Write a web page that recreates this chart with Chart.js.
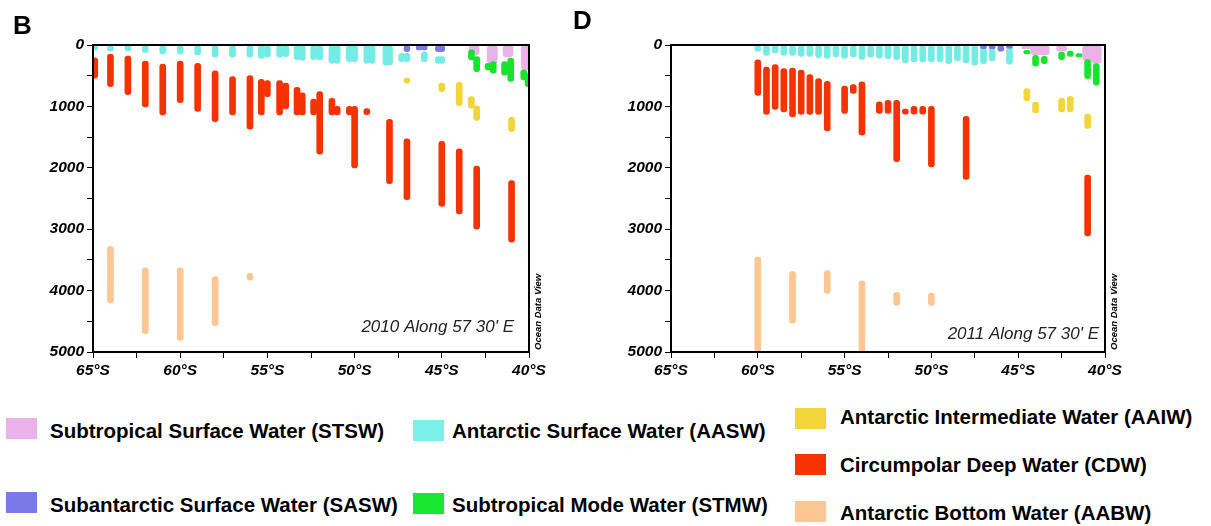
<!DOCTYPE html>
<html>
<head>
<meta charset="utf-8">
<script src="https://cdn.jsdelivr.net/npm/chart.js@4.4.1/dist/chart.umd.min.js"></script>
<style>
body { margin: 0; background: #fff; font-family: 'Liberation Sans', Arial, sans-serif; }
#wrap { position: relative; width: 1211px; height: 526px; overflow: hidden; }
canvas { position: absolute; top: 0; }
.panel { position: absolute; font-weight: bold; font-size: 26px; line-height: 30px; }
.sw { position: absolute; width: 31px; height: 21px; }
.lt { position: absolute; font-weight: bold; font-size: 20.5px; line-height: 24px; white-space: nowrap; color: #000; }
</style>
</head>
<body>
<div id="wrap">
  <canvas id="chartB" width="560" height="385" style="left:0px"></canvas>
  <canvas id="chartD" width="560" height="385" style="left:578px"></canvas>
  <div class="panel" style="left:13px;top:10px">B</div>
  <div class="panel" style="left:573px;top:5px">D</div>

  <div class="sw" style="left:6px;top:418px;background:#ebb1e9"></div>
  <div class="lt" style="left:50px;top:419px">Subtropical Surface Water (STSW)</div>
  <div class="sw" style="left:6px;top:492px;background:#7979e9"></div>
  <div class="lt" style="left:50px;top:493px">Subantarctic Surface Water (SASW)</div>

  <div class="sw" style="left:413px;top:420px;background:#7af0e8"></div>
  <div class="lt" style="left:452px;top:419px">Antarctic Surface Water (AASW)</div>
  <div class="sw" style="left:413px;top:493px;background:#1ae830"></div>
  <div class="lt" style="left:452px;top:493px">Subtropical Mode Water (STMW)</div>

  <div class="sw" style="left:795px;top:408px;background:#f2d53a"></div>
  <div class="lt" style="left:840px;top:405px">Antarctic Intermediate Water (AAIW)</div>
  <div class="sw" style="left:795px;top:454px;background:#f93300"></div>
  <div class="lt" style="left:840px;top:453px">Circumpolar Deep Water (CDW)</div>
  <div class="sw" style="left:795px;top:501px;background:#fec692"></div>
  <div class="lt" style="left:840px;top:501px">Antarctic Bottom Water (AABW)</div>
</div>
<script>
// [latitude, top depth, bottom depth] per station

/* 2010 section (B) */
const stswB = [[-43.15, 0, 160], [-42.1, 0, 300], [-41.2, 0, 190], [-40.15, 0, 400]]
const sasw2010 = [[-47.0, 0, 110], [-46.3, 0, 80], [-46.0, 0, 80], [-45.2, 0, 110], [-45.0, 0, 110]]
const aaswB = [
    [-64.9, 0, 80], [-64.0, 0, 95], [-63.0, 0, 95], [-62.0, 0, 125], [-61.0, 0, 146],
    [-60.0, 0, 146], [-59.0, 0, 165], [-58.0, 0, 200], [-57.0, 0, 200], [-56.0, 0, 200],
    [-55.35, 0, 220], [-55.0, 0, 200], [-54.3, 0, 200], [-53.95, 0, 190], [-53.3, 0, 240],
    [-53.0, 0, 250], [-52.35, 0, 240], [-52.0, 0, 245], [-51.3, 0, 300], [-51.0, 0, 300],
    [-50.3, 0, 270], [-50.0, 0, 270], [-49.3, 0, 300], [-49.0, 0, 300], [-48.2, 0, 325],
    [-48.0, 0, 325], [-47.3, 135, 270], [-47.0, 135, 270], [-46.0, 110, 270],
    [-45.2, 190, 300], [-45.0, 190, 300]
]
const stmwB = [
    [-43.3, 80, 245], [-43.0, 190, 435], [-42.35, 300, 405], [-42.05, 270, 460],
    [-41.4, 270, 490], [-41.05, 215, 595], [-40.3, 405, 570], [-40.05, 460, 680]
]
const aaiwB = [
    [-47.0, 540, 620], [-45.0, 620, 760], [-44.0, 610, 990], [-43.3, 840, 1030],
    [-43.0, 990, 1230], [-41.0, 1180, 1410]
]
const cdwB = [
    [-64.9, 210, 540], [-64.0, 146, 680], [-63.0, 180, 810], [-62.0, 260, 1010],
    [-61.0, 310, 1140], [-60.0, 260, 940], [-59.0, 300, 1080], [-58.0, 420, 1250],
    [-57.0, 515, 1140], [-56.0, 500, 1370], [-55.35, 560, 1140], [-55.0, 580, 840],
    [-54.3, 580, 1140], [-53.95, 620, 1040], [-53.3, 690, 1140], [-53.0, 780, 1140],
    [-52.35, 880, 1140], [-52.0, 760, 1780], [-51.3, 870, 1140], [-51.0, 1000, 1140],
    [-50.3, 1000, 1140], [-50.0, 1000, 2000], [-49.3, 1035, 1135], [-48.0, 1210, 2260],
    [-47.0, 1530, 2520], [-45.0, 1570, 2630], [-44.0, 1690, 2750], [-43.0, 1970, 3000],
    [-41.0, 2210, 3210]
]
const aabwB = [[-64.0, 3280, 4200], [-62.0, 3630, 4700], [-60.0, 3630, 4810], [-58.0, 3770, 4570], [-56.0, 3720, 3830]]

/* 2011 section (D) */
const stswD = [[-44.5, 0, 60], [-44.0, 0, 160], [-43.5, 0, 160], [-42.5, 0, 100], [-41.0, 0, 250], [-40.5, 0, 300]]
const sasw2011 = [[-47.0, 0, 60], [-46.5, 0, 60], [-46.0, 0, 100], [-45.5, 0, 50]]
const aaswD = [
    [-60.0, 0, 100], [-59.5, 0, 170], [-59.0, 0, 130], [-58.5, 0, 170], [-58.0, 0, 170],
    [-57.5, 0, 185], [-57.0, 0, 185], [-56.5, 0, 205], [-56.0, 0, 220], [-55.5, 0, 195],
    [-55.0, 0, 220], [-54.5, 0, 195], [-54.0, 0, 235], [-53.5, 0, 200], [-53.0, 0, 215],
    [-52.5, 0, 222], [-52.0, 0, 238], [-51.5, 0, 293], [-51.0, 0, 276], [-50.5, 0, 276],
    [-50.0, 0, 276], [-49.5, 0, 276], [-49.0, 0, 303], [-48.5, 0, 260], [-48.0, 0, 293],
    [-47.5, 0, 330], [-47.0, 60, 303], [-46.5, 60, 260], [-45.5, 50, 314]
]
const stmwD = [
    [-44.5, 85, 145], [-44.0, 168, 346], [-43.5, 184, 303], [-42.5, 114, 238],
    [-42.0, 98, 184], [-41.5, 141, 195], [-41.0, 238, 547], [-40.5, 303, 656]
]
const aaiwD = [[-44.5, 710, 910], [-44.0, 930, 1105], [-42.5, 870, 1090], [-42.0, 835, 1090], [-41.0, 1127, 1360]]
const cdwD = [
    [-60.0, 240, 820], [-59.5, 360, 1130], [-59.0, 320, 1050], [-58.5, 385, 1090],
    [-58.0, 375, 1170], [-57.5, 410, 1130], [-57.0, 480, 1130], [-56.5, 545, 1130],
    [-56.0, 590, 1400], [-55.0, 670, 1115], [-54.5, 645, 790], [-54.0, 600, 1470],
    [-53.0, 925, 1115], [-52.5, 900, 1115], [-52.0, 900, 1900], [-51.5, 1045, 1125],
    [-51.0, 1000, 1125], [-50.5, 1000, 1125], [-50.0, 1000, 1985], [-48.0, 1160, 2190],
    [-41.0, 2120, 3110]
]
const aabwD = [[-60.0, 3450, 5000], [-58.0, 3690, 4530], [-56.0, 3675, 4045], [-54.0, 3840, 5000], [-52.0, 4030, 4240], [-50.0, 4040, 4240]]

const xTicks = [-65, -60, -55, -50, -45, -40]
const yTicks = [0, 1000, 2000, 3000, 4000, 5000]

const toPts = rows => rows.map(r => ({x: r[0], y: [r[1], r[2]]}))

// first dataset ends up on top
const serie = (label, color, rows, w) => ({
    label: label,
    data: toPts(rows),
    backgroundColor: color,
    barThickness: w || 6,
    borderRadius: 3,
    borderSkipped: false,
    grouped: false
})

const tickFont = {family: 'Liberation Sans', size: 15.5, weight: 'bold', style: 'italic'}

const decor = {
    id: 'decor',
    afterDraw(chart, args, opts) {
        const {ctx, chartArea: a} = chart
        ctx.save()
        ctx.strokeStyle = '#000'
        ctx.lineWidth = 2
        ctx.strokeRect(a.left, a.top, a.right - a.left, a.bottom - a.top)
        ctx.fillStyle = '#222'
        ctx.font = 'italic 17px "Liberation Sans"'
        ctx.textAlign = 'right'
        ctx.textBaseline = 'alphabetic'
        ctx.fillText(opts.note, a.right - opts.dx, a.bottom - opts.dy)
        ctx.translate(a.right + 9, a.bottom - 2)
        ctx.rotate(-Math.PI / 2)
        ctx.textAlign = 'left'
        ctx.textBaseline = 'middle'
        ctx.fillStyle = '#000'
        ctx.font = 'bold italic 9.5px "Liberation Sans"'
        ctx.fillText('Ocean Data View', 0, 0)
        ctx.restore()
    }
}

function drawPanel(id, sets, padRight, note, dx, dy) {
    new Chart(document.getElementById(id), {
        type: 'bar',
        data: {
            datasets: [
                serie('AABW', '#fec692', sets.aabw),
                serie('CDW', '#f53300', sets.cdw),
                serie('AAIW', '#f2d53a', sets.aaiw),
                serie('STMW', '#17e42c', sets.stmw),
                serie('SASW', '#7878e6', sets.sasw),
                serie('AASW', '#74ece6', sets.aasw),
                serie('STSW', '#ebb1e9', sets.stsw, 10)
            ]
        },
        options: {
            responsive: false,
            animation: false,
            layout: {padding: {top: 45, right: padRight, left: 0, bottom: 0}},
            plugins: {
                legend: {display: false},
                tooltip: {enabled: false},
                decor: {note: note, dx: dx, dy: dy}
            },
            scales: {
                x: {
                    type: 'linear', min: -65, max: -40, offset: false,
                    afterFit: s => { s.height = 33 },
                    ticks: {
                        stepSize: 2.5, autoSkip: false, maxRotation: 0, color: '#000', font: tickFont, padding: 3,
                        callback: v => xTicks.includes(v) ? Math.abs(v) + '°S' : ''
                    },
                    grid: {drawOnChartArea: false, offset: false, color: '#000', tickLength: 6},
                    border: {color: '#000', width: 2}
                },
                y: {
                    min: 0, max: 5000, reverse: true,
                    afterFit: s => { s.width = 93 },
                    ticks: {
                        stepSize: 500, autoSkip: false, color: '#000', font: tickFont, padding: 3,
                        callback: v => yTicks.includes(v) ? String(v) : ''
                    },
                    grid: {drawOnChartArea: false, color: '#000', tickLength: 6},
                    border: {color: '#000', width: 2}
                }
            }
        },
        plugins: [decor]
    })
}

drawPanel('chartB', {stsw: stswB, sasw: sasw2010, aasw: aaswB, stmw: stmwB, aaiw: aaiwB, cdw: cdwB, aabw: aabwB},
    31, "2010 Along 57 30' E", 15, 20)
drawPanel('chartD', {stsw: stswD, sasw: sasw2011, aasw: aaswD, stmw: stmwD, aaiw: aaiwD, cdw: cdwD, aabw: aabwD},
    33, "2011 Along 57 30' E", 6, 13)
</script>
</body>
</html>
